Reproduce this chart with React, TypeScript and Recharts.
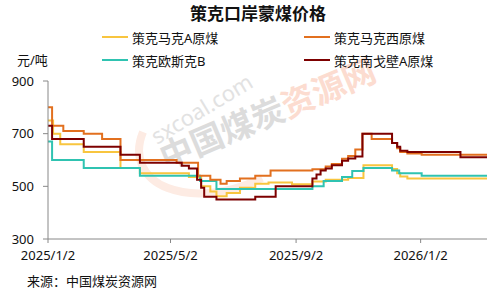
import { LineChart, Line, XAxis, YAxis } from 'recharts';

// change points: [date, price]
const makeA: [string, number][] = [
  ['2025-01-02', 750], ['2025-01-07', 700], ['2025-01-14', 660], ['2025-02-06', 630],
  ['2025-03-14', 570], ['2025-04-02', 550], ['2025-05-20', 535], ['2025-06-01', 500],
  ['2025-06-10', 480], ['2025-06-16', 462], ['2025-06-26', 475], ['2025-07-09', 495],
  ['2025-07-24', 510], ['2025-08-06', 515], ['2025-08-29', 508], ['2025-09-18', 518],
  ['2025-10-01', 525], ['2025-10-23', 532], ['2025-11-07', 580], ['2025-12-05', 566],
  ['2025-12-10', 550], ['2025-12-13', 537], ['2025-12-20', 530], ['2026-03-08', 530],
];
const makeWest: [string, number][] = [
  ['2025-01-02', 800], ['2025-01-06', 730], ['2025-01-17', 710], ['2025-02-06', 700],
  ['2025-02-24', 680], ['2025-03-14', 600], ['2025-05-08', 590], ['2025-05-29', 540],
  ['2025-06-10', 525], ['2025-06-20', 510], ['2025-06-26', 520], ['2025-07-09', 530],
  ['2025-07-24', 540], ['2025-08-08', 560], ['2025-09-18', 565], ['2025-10-01', 575],
  ['2025-10-07', 585], ['2025-10-17', 605], ['2025-10-23', 615], ['2025-10-30', 640],
  ['2025-11-06', 700], ['2025-11-15', 680], ['2025-12-05', 665], ['2025-12-10', 645],
  ['2025-12-13', 630], ['2025-12-20', 625], ['2026-01-03', 620], ['2026-03-08', 620],
];
const oskB: [string, number][] = [
  ['2025-01-02', 670], ['2025-01-06', 600], ['2025-02-06', 570], ['2025-04-02', 540],
  ['2025-05-31', 520], ['2025-06-16', 490], ['2025-09-18', 500], ['2025-09-29', 520],
  ['2025-10-17', 535], ['2025-10-27', 558], ['2025-11-07', 570], ['2025-12-05', 560],
  ['2025-12-12', 550], ['2026-01-03', 540], ['2026-03-08', 540],
];
const gobiA: [string, number][] = [
  ['2025-01-02', 730], ['2025-01-06', 680], ['2025-02-06', 650], ['2025-03-14', 620],
  ['2025-04-02', 590], ['2025-05-13', 578], ['2025-05-20', 568], ['2025-05-28', 525],
  ['2025-06-01', 495], ['2025-06-04', 460], ['2025-06-16', 450], ['2025-07-24', 460],
  ['2025-08-13', 500], ['2025-09-18', 530], ['2025-09-22', 545], ['2025-09-26', 560],
  ['2025-10-01', 568], ['2025-10-07', 580], ['2025-10-17', 597], ['2025-10-23', 606],
  ['2025-10-30', 613], ['2025-11-06', 700], ['2025-12-05', 665], ['2025-12-10', 650],
  ['2025-12-13', 635], ['2025-12-20', 630], ['2026-02-10', 610], ['2026-03-08', 610],
];

const tickDates = ['2025-01-02', '2025-05-02', '2025-09-02', '2026-01-02'];
const tickLabels = ['2025/1/2', '2025/5/2', '2025/9/2', '2026/1/2'];
const yTicks = [300, 500, 700, 900];

const base = Date.UTC(2025, 0, 2);
const toDay = (s: string) => {
  const [y, m, d] = s.split('-').map(Number);
  return Math.round((Date.UTC(y, m - 1, d) - base) / 86400000);
};
const rows = (pts: [string, number][]) => pts.map(([d, v]) => ({ day: toDay(d), v }));

const series = [
  { name: '策克马克A原煤', color: '#f8c53f', data: rows(makeA) },
  { name: '策克欧斯克B', color: '#2fc3b1', data: rows(oskB) },
  { name: '策克马克西原煤', color: '#e2701f', data: rows(makeWest) },
  { name: '策克南戈壁A原煤', color: '#7d0000', data: rows(gobiA) },
];
const legendOrder = [0, 2, 1, 3];

const font = "'Noto Sans', 'Noto Sans CJK SC', sans-serif";
const xTicks = tickDates.map(toDay);

export default function App() {
  return (
    <div style={{ position: 'absolute', left: 0, top: 0, width: 503, height: 300, fontFamily: font, color: '#111', background: '#fff' }}>
      {/* watermark, behind everything */}
      <svg style={{ position: 'absolute', left: 0, top: 0 }} width={503} height={300}>
        <path d="M 143 132 A 95 58 -22 0 0 262 178" fill="none" stroke="#fdebe3" strokeWidth={8} />
        <text x={157} y={145} transform="rotate(-31 157 145)" fontSize={22} fill="#e2e2e2" fontFamily={font}>sxcoal.com</text>
        <text x={166} y={170} transform="rotate(-23 166 170)" fontSize={33} fontWeight="bold" fontFamily={font}>
          <tspan fill="#dcdcdc">中国煤炭</tspan>
          <tspan fill="#fcdcd0">资源网</tspan>
        </text>
      </svg>
      <div style={{ position: 'absolute', left: 0, width: 516, top: 3, textAlign: 'center', fontSize: 17, fontWeight: 'bold', lineHeight: '22px' }}>
        策克口岸蒙煤价格
      </div>
      {legendOrder.map((i, k) => {
        const s = series[i];
        const left = k % 2 === 0 ? 102 : 304;
        const top = k < 2 ? 28 : 51;
        return (
          <div key={s.name} style={{ position: 'absolute', left, top, height: 18, display: 'flex', alignItems: 'center', fontSize: 13 }}>
            <span style={{ display: 'inline-block', width: 26, height: 2, background: s.color, marginRight: 4 }} />
            {s.name}
          </div>
        );
      })}
      <div style={{ position: 'absolute', left: 17, top: 51, fontSize: 13, lineHeight: '18px' }}>元/吨</div>
      <div style={{ position: 'absolute', left: 0, top: 0 }}>
        <LineChart width={503} height={300} margin={{ top: 81, right: 16, bottom: 31, left: 0 }}>
          <XAxis
            dataKey="day"
            type="number"
            domain={[0, 430]}
            ticks={xTicks}
            tickFormatter={(v: number) => tickLabels[xTicks.indexOf(v)] ?? ''}
            height={30}
            tickSize={4}
            tickMargin={8}
            stroke="#888"
            tick={{ fill: '#111', fontSize: 13, fontFamily: font }}
          />
          <YAxis
            type="number"
            domain={[300, 900]}
            ticks={yTicks}
            width={48}
            tickSize={5}
            tickMargin={9}
            stroke="#888"
            tick={{ fill: '#111', fontSize: 13, fontFamily: font }}
          />
          {series.map((s) => (
            <Line
              key={s.name}
              data={s.data}
              dataKey="v"
              name={s.name}
              type="stepAfter"
              stroke={s.color}
              strokeWidth={2}
              dot={false}
              isAnimationActive={false}
            />
          ))}
        </LineChart>
      </div>
      <div style={{ position: 'absolute', left: 27, top: 272, fontSize: 13, lineHeight: '18px' }}>来源：中国煤炭资源网</div>
    </div>
  );
}
